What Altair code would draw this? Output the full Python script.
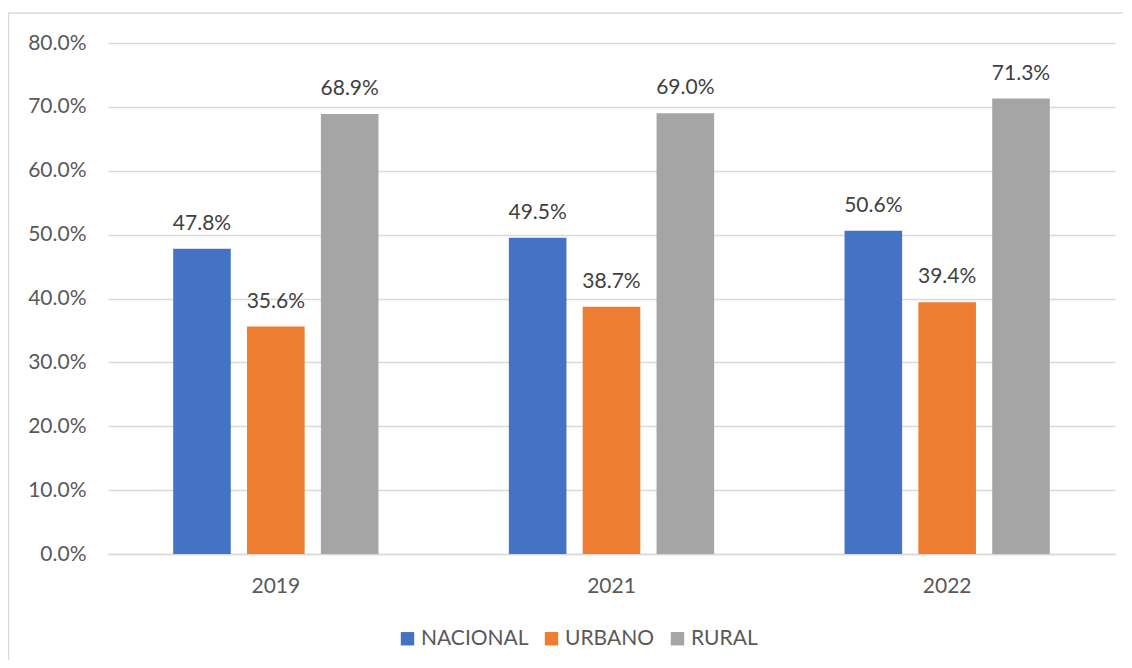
import altair as alt
import pandas as pd

years = ["2019", "2021", "2022"]
series = ["NACIONAL", "URBANO", "RURAL"]
nacional = [0.478, 0.495, 0.506]
urbano = [0.356, 0.387, 0.394]
rural = [0.689, 0.690, 0.713]
colors = ["#4472C4", "#ED7D31", "#A5A5A5"]

rows = []
for i, y in enumerate(years):
    for s, vals in zip(series, [nacional, urbano, rural]):
        rows.append({"year": y, "serie": s, "value": vals[i]})
df = pd.DataFrame(rows)

FONT = "Lato"
FS = 21

x = alt.X("year:N", sort=years, title=None,
          scale=alt.Scale(paddingInner=0.34, paddingOuter=0.17),
          axis=alt.Axis(labelAngle=0, labelFontSize=FS, labelColor="#595959",
                        labelFont=FONT, labelPadding=21, ticks=False,
                        domainColor="#d9d9d9", domainWidth=1.5))
xo = alt.XOffset("serie:N", sort=series,
                 scale=alt.Scale(paddingInner=0.22, paddingOuter=0.11))
y = alt.Y("value:Q", title=None,
          scale=alt.Scale(domain=[0, 0.8], nice=False),
          axis=alt.Axis(format=".1%", values=[0, 0.1, 0.2, 0.3, 0.4, 0.5, 0.6, 0.7, 0.8],
                        labelFontSize=FS, labelColor="#595959", labelFont=FONT,
                        labelPadding=22, ticks=False, domain=False,
                        gridColor="#d9d9d9", gridWidth=1.5))
color = alt.Color("serie:N", sort=series,
                  scale=alt.Scale(domain=series, range=colors),
                  legend=alt.Legend(title=None, orient="none", direction="horizontal",
                                    legendX=289, legendY=585,
                                    symbolType="square", symbolSize=180,
                                    symbolStrokeWidth=0,
                                    labelFontSize=FS, labelColor="#595959",
                                    labelFont=FONT, columnPadding=12, labelOffset=3))

base = alt.Chart(df)
bars = base.mark_bar().encode(x=x, xOffset=xo, y=y, color=color)
labels = base.mark_text(dy=-15, fontSize=FS, color="#404040", font=FONT,
                        baseline="bottom").encode(
    x=x, xOffset=xo, y=y, text=alt.Text("value:Q", format=".1%"))

border = alt.Chart(pd.DataFrame({"a": [0]})).mark_rect(
    fill=None, stroke="#d9d9d9", strokeWidth=1.5).encode(
    x=alt.value(-99.5), x2=alt.value(1030), y=alt.value(-30), y2=alt.value(640))

chart = alt.layer(border, bars, labels).properties(
    width=1007, height=511,
    autosize=alt.AutoSizeParams(type="none"),
    padding={"left": 100, "top": 35, "right": 8, "bottom": 106},
).configure_view(stroke=None)

chart.save("out.html", embed_options={"renderer": "svg", "actions": False})
